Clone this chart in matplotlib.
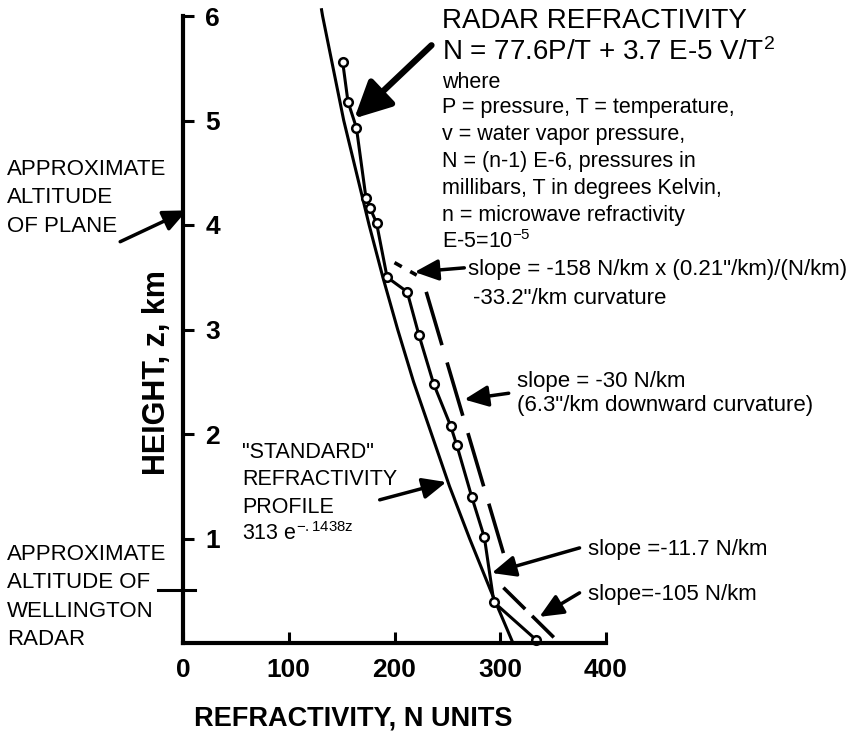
import matplotlib
matplotlib.use('Agg')
import matplotlib.pyplot as plt

plt.rcParams['font.family'] = ['Liberation Sans', 'DejaVu Sans']
plt.rcParams['mathtext.fontset'] = 'custom'
plt.rcParams['mathtext.rm'] = 'Liberation Sans'
plt.rcParams['mathtext.it'] = 'Liberation Sans'
plt.rcParams['mathtext.bf'] = 'Liberation Sans:bold'
plt.rcParams['lines.scale_dashes'] = False

# ---------------- data ----------------
std_z = [0.0, 0.5, 1.0, 1.5, 2.0, 2.5, 3.0, 3.5, 4.0, 4.5, 5.0, 5.5, 6.0, 6.06]
std_N = [312, 291, 271, 252, 235, 218, 203, 189, 176, 164, 152, 142, 132, 131]

meas_z = [5.56, 5.18, 4.93, 4.26, 4.16, 4.02, 3.50, 3.36, 2.95, 2.48, 2.08, 1.89, 1.40, 1.01, 0.39, 0.03]
meas_N = [151, 156, 164, 173, 177, 183, 193, 212, 223, 237, 253, 259, 273, 285, 294, 334]

slope158_N = [200, 221]
slope158_z = [3.64, 3.52]
slope30_N = [230, 303]
slope30_z = [3.36, 0.86]
slope105_N = [303, 351]
slope105_z = [0.53, 0.05]

x_ticks = [0, 100, 200, 300, 400]
y_ticks = [1, 2, 3, 4, 5, 6]

# ---------------- figure ----------------
W, H = 855, 734
fig = plt.figure(figsize=(W / 100, H / 100), dpi=100)
ax = fig.add_axes([183 / W, 1 - 643 / H, (606 - 183) / W, (643 - 16) / H])
ax.set_xlim(0, 400)
ax.set_ylim(0, 6)
for s in ['top', 'right']:
    ax.spines[s].set_visible(False)
for s in ['left', 'bottom']:
    ax.spines[s].set_linewidth(3)

ax.set_xticks(x_ticks)
ax.set_xticklabels([str(t) for t in x_ticks], fontsize=19, fontweight='bold')
ax.set_yticks(y_ticks)
ax.set_yticklabels([str(t) for t in y_ticks], fontsize=19, fontweight='bold')
ax.tick_params(direction='in', length=8, width=2.2)
ax.tick_params(axis='y', pad=-26.6)
ax.tick_params(axis='x', pad=11)

# curves
ax.plot(std_N, std_z, color='k', lw=2.2, clip_on=False)
ax.plot(meas_N, meas_z, color='k', lw=2.2, marker='o', ms=6.2, mfc='white',
        mec='k', mew=1.8, clip_on=False)

l1, = ax.plot(slope30_N, slope30_z, color='k', lw=2.6, clip_on=False)
l1.set_dashes((40, 13))
l2, = ax.plot(slope105_N, slope105_z, color='k', lw=2.6, clip_on=False)
l2.set_dashes((22, 7))
l3, = ax.plot(slope158_N, slope158_z, color='k', lw=2.6, clip_on=False)
l3.set_dashes((6, 7))


def arrow(tail, head, lw=2.5, hl=0.9, hw=0.4, ms=16):
    ax.annotate('', xy=head, xytext=tail,
                arrowprops=dict(arrowstyle='-|>,head_length=%g,head_width=%g' % (hl, hw),
                                lw=lw, color='k', shrinkA=0, shrinkB=0,
                                mutation_scale=ms),
                annotation_clip=False)


# arrows (data coordinates: N, z)
arrow((235, 5.72), (162, 5.02), lw=4.5, hl=1.1, hw=0.55, ms=20)   # equation -> curve
arrow((-59.4, 3.84), (3.8, 4.14))                                  # plane altitude
arrow((266, 3.59), (219, 3.55))                                    # slope -158
arrow((308, 2.39), (266, 2.33))                                    # slope -30
arrow((375, 0.91), (292, 0.67))                                    # slope -11.7
arrow((375, 0.48), (337, 0.25))                                    # slope -105
arrow((186, 1.37), (249, 1.54))                                    # standard profile

# Wellington radar altitude marker
ax.plot([-23.6, 11.3], [0.51, 0.51], color='k', lw=2.2, clip_on=False)


def ftext(x, y, s, **kw):
    kw.setdefault('va', 'baseline')
    kw.setdefault('ha', 'left')
    fig.text(x / W, 1 - y / H, s, **kw)


# axis titles
fig.text(353 / W, 1 - 718 / H, 'REFRACTIVITY, N UNITS', fontsize=19.5,
         fontweight='bold', ha='center', va='center')
fig.text(157 / W, 1 - 373 / H, 'HEIGHT, z, km', fontsize=22,
         fontweight='bold', ha='center', va='center', rotation=90)

# equation block
ftext(442, 28, 'RADAR REFRACTIVITY', fontsize=20)
ftext(442, 60, 'N = 77.6P/T + 3.7 E-5 V/T$^{2}$', fontsize=20)
desc = ['where',
        'P = pressure, T = temperature,',
        'v = water vapor pressure,',
        'N = (n-1) E-6, pressures in',
        'millibars, T in degrees Kelvin,',
        'n = microwave refractivity',
        'E-5=10$^{-5}$']
desc_y = [88, 113, 140, 167, 194, 221, 248]
for s, yy in zip(desc, desc_y):
    ftext(442, yy, s, fontsize=15.5)

# slope notes
ftext(468, 275, 'slope = -158 N/km x (0.21"/km)/(N/km)', fontsize=16)
ftext(473, 304, '-33.2"/km curvature', fontsize=16)
ftext(517, 387, 'slope = -30 N/km', fontsize=16)
ftext(517, 411, '(6.3"/km downward curvature)', fontsize=16)
ftext(588, 555, 'slope =-11.7 N/km', fontsize=16)
ftext(588, 600, 'slope=-105 N/km', fontsize=16)

# standard profile note
std_lines = ['"STANDARD"', 'REFRACTIVITY', 'PROFILE', '313 e$^{\\mathrm{-.1438z}}$']
std_y = [458, 485, 513, 540]
for s, yy in zip(std_lines, std_y):
    ftext(242, yy, s, fontsize=15.5)

# left notes
for s, yy in zip(['APPROXIMATE', 'ALTITUDE', 'OF PLANE'], [175, 203, 232]):
    ftext(7, yy, s, fontsize=16)
for s, yy in zip(['APPROXIMATE', 'ALTITUDE OF', 'WELLINGTON', 'RADAR'], [560, 588, 617, 645]):
    ftext(7, yy, s, fontsize=16)

fig.savefig('out.png', dpi=100)
